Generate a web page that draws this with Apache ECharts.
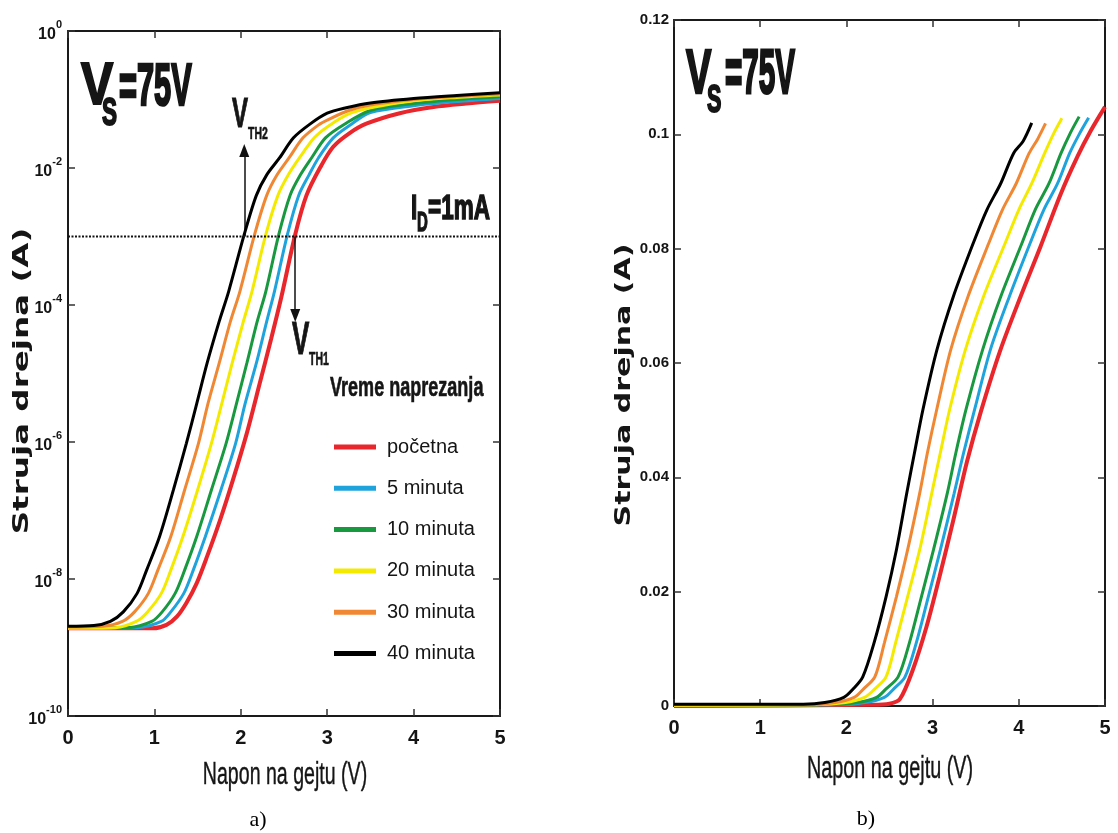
<!DOCTYPE html>
<html>
<head>
<meta charset="utf-8">
<script src="https://cdn.jsdelivr.net/npm/echarts@6.0.0/dist/echarts.min.js"></script>
<style>
html,body{margin:0;padding:0;background:#fff;}
#chart{width:1118px;height:833px;}
</style>
</head>
<body>
<div id="chart"></div>
<script>
// ---------------- DATA ----------------
const SERIES_NAMES = ['početna', '5 minuta', '10 minuta', '20 minuta', '30 minuta', '40 minuta'];
const X_TICKS = [0, 1, 2, 3, 4, 5];
const LOG_Y_TICKS = [-10, -8, -6, -4, -2, 0];      // decades shown on panel a)
const LIN_Y_TICKS = [0, 0.02, 0.04, 0.06, 0.08, 0.1, 0.12];

// Panel a) : [gate voltage V, log10 of drain current in A]
const LOG_POCETNA = [[0,-8.72],[0.98,-8.72],[1.14,-8.67],[1.26,-8.55],[1.37,-8.35],[1.49,-8.06],[1.61,-7.67],[1.76,-7.14],[1.91,-6.55],[2.07,-5.87],[2.22,-5.14],[2.35,-4.50],[2.47,-3.88],[2.63,-2.97],[2.76,-2.40],[2.92,-1.99],[3.07,-1.69],[3.26,-1.49],[3.46,-1.35],[3.84,-1.20],[4.23,-1.11],[4.61,-1.06],[5.0,-1.02]];
const LOG_5MIN = [[0,-8.72],[0.8,-8.71],[1.08,-8.62],[1.19,-8.48],[1.34,-8.21],[1.45,-7.87],[1.59,-7.38],[1.77,-6.70],[1.94,-6.02],[2.05,-5.44],[2.18,-4.85],[2.30,-4.24],[2.39,-3.80],[2.54,-2.97],[2.67,-2.40],[2.79,-2.10],[2.90,-1.85],[3.07,-1.56],[3.28,-1.36],[3.5,-1.19],[4.0,-1.09],[4.5,-1.03],[5.0,-0.985]];
const LOG_10MIN = [[0,-8.72],[0.7,-8.71],[0.97,-8.62],[1.09,-8.48],[1.24,-8.21],[1.35,-7.87],[1.49,-7.38],[1.66,-6.70],[1.83,-6.02],[1.95,-5.44],[2.07,-4.85],[2.19,-4.24],[2.29,-3.80],[2.44,-2.97],[2.57,-2.40],[2.69,-2.10],[2.82,-1.85],[2.98,-1.56],[3.2,-1.36],[3.5,-1.16],[4.0,-1.06],[4.5,-1.0],[5.0,-0.96]];
const LOG_20MIN = [[0,-8.72],[0.55,-8.71],[0.79,-8.62],[0.92,-8.48],[1.08,-8.21],[1.19,-7.87],[1.33,-7.38],[1.50,-6.70],[1.66,-6.02],[1.78,-5.44],[1.90,-4.85],[2.03,-4.24],[2.13,-3.80],[2.29,-2.97],[2.43,-2.40],[2.55,-2.10],[2.68,-1.85],[2.85,-1.56],[3.0,-1.40],[3.25,-1.21],[3.5,-1.12],[4.0,-1.02],[4.5,-0.97],[5.0,-0.935]];
const LOG_30MIN = [[0,-8.70],[0.4,-8.69],[0.63,-8.62],[0.77,-8.48],[0.93,-8.21],[1.04,-7.87],[1.19,-7.38],[1.35,-6.70],[1.51,-6.02],[1.62,-5.44],[1.75,-4.85],[1.88,-4.24],[1.99,-3.80],[2.16,-2.97],[2.30,-2.40],[2.42,-2.10],[2.56,-1.85],[2.72,-1.56],[2.9,-1.37],[3.0,-1.30],[3.25,-1.16],[3.5,-1.08],[4.0,-1.0],[4.5,-0.955],[5.0,-0.92]];
const LOG_40MIN = [[0,-8.69],[0.3,-8.68],[0.49,-8.62],[0.64,-8.48],[0.80,-8.21],[0.91,-7.87],[1.06,-7.38],[1.22,-6.70],[1.37,-6.02],[1.49,-5.44],[1.61,-4.85],[1.75,-4.24],[1.86,-3.80],[2.04,-2.97],[2.18,-2.40],[2.30,-2.10],[2.45,-1.85],[2.61,-1.56],[2.80,-1.36],[3.0,-1.2],[3.22,-1.12],[3.5,-1.05],[4.0,-0.985],[4.5,-0.94],[5.0,-0.90]];

// Panel b) : [gate voltage V, drain current A]
const LIN_POCETNA = [[0,0],[2.3,0.0002],[2.5,0.0004],[2.62,0.0012],[2.77,0.0063],[2.93,0.0139],[3.08,0.0226],[3.24,0.0325],[3.40,0.0428],[3.56,0.0515],[3.78,0.0620],[4.02,0.0716],[4.25,0.0803],[4.49,0.0897],[4.68,0.0961],[4.83,0.1005],[5.0,0.1048]];
const LIN_5MIN = [[0,0.0001],[1.9,0.0002],[2.22,0.0006],[2.44,0.0015],[2.55,0.003],[2.68,0.0051],[2.81,0.011],[2.95,0.0191],[3.09,0.0273],[3.25,0.0372],[3.36,0.0443],[3.49,0.052],[3.67,0.0623],[3.89,0.0716],[4.13,0.0809],[4.29,0.0868],[4.45,0.0914],[4.59,0.0967],[4.70,0.1000],[4.81,0.1029]];
const LIN_10MIN = [[0,0.0001],[1.8,0.0002],[2.13,0.0006],[2.35,0.0015],[2.46,0.003],[2.60,0.0051],[2.73,0.011],[2.87,0.0191],[3.01,0.0273],[3.17,0.0372],[3.27,0.0443],[3.39,0.052],[3.58,0.0623],[3.79,0.0716],[4.035,0.0809],[4.19,0.0868],[4.35,0.0914],[4.49,0.0967],[4.60,0.1003],[4.70,0.1031]];
const LIN_20MIN = [[0,0.0001],[1.65,0.0002],[1.99,0.0006],[2.21,0.0015],[2.33,0.003],[2.46,0.0051],[2.57,0.011],[2.71,0.0191],[2.85,0.0273],[2.99,0.0372],[3.09,0.0443],[3.20,0.052],[3.38,0.0623],[3.59,0.0716],[3.84,0.0809],[4.00,0.0868],[4.15,0.0914],[4.30,0.0967],[4.40,0.1000],[4.50,0.1028]];
const LIN_30MIN = [[0,0.0002],[1.55,0.0002],[1.87,0.0006],[2.09,0.0015],[2.20,0.003],[2.33,0.0051],[2.44,0.011],[2.58,0.0191],[2.71,0.0273],[2.85,0.0372],[2.94,0.0443],[3.05,0.052],[3.21,0.0623],[3.41,0.0716],[3.65,0.0809],[3.81,0.0868],[3.97,0.0914],[4.12,0.0967],[4.22,0.0992],[4.31,0.1019]];
const LIN_40MIN = [[0,0.0003],[1.5,0.0003],[1.75,0.0006],[1.97,0.0015],[2.08,0.003],[2.19,0.0051],[2.32,0.011],[2.46,0.0191],[2.58,0.0273],[2.70,0.0372],[2.79,0.0443],[2.89,0.052],[3.05,0.0623],[3.24,0.0716],[3.47,0.0809],[3.63,0.0868],[3.79,0.0914],[3.94,0.0967],[4.05,0.0988],[4.15,0.102]];

// threshold annotation values
const ID_LEVEL = 1e-3;                       // I_D = 1 mA
const VTH2 = 2.04, VTH2_TIP = 0.018;         // arrow up to this current
const VTH1 = 2.63, VTH1_TIP = 7e-5;          // arrow down to this current

// ---------------- STYLE ----------------
const COLORS = ['#e8262b', '#1fa3dd', '#18993f', '#f4ea00', '#f08733', '#000000'];
const WIDTHS = [4, 3, 3, 3, 3, 3];
const SANS = '"Liberation Sans",Arial,sans-serif';
const INK = '#151515';

const LOG_SETS = [LOG_POCETNA, LOG_5MIN, LOG_10MIN, LOG_20MIN, LOG_30MIN, LOG_40MIN];
const LIN_SETS = [LIN_POCETNA, LIN_5MIN, LIN_10MIN, LIN_20MIN, LIN_30MIN, LIN_40MIN];

const chart = echarts.init(document.getElementById('chart'), null, {renderer: 'canvas'});

const AX_LINE = {show: true, onZero: false, lineStyle: {color: '#1a1a1a', width: 2}};
const AX_TICK = {show: true, inside: true, length: 7, lineStyle: {color: '#333', width: 1.5}};

function baseX(grid, pos, showLabel) {
  return {
    type: 'value', gridIndex: grid, position: pos,
    min: X_TICKS[0], max: X_TICKS[X_TICKS.length - 1], interval: X_TICKS[1] - X_TICKS[0],
    axisLine: AX_LINE, axisTick: AX_TICK,
    axisLabel: {show: showLabel, margin: 12, color: INK, fontFamily: SANS, fontWeight: 'bold', fontSize: 20},
    splitLine: {show: false}
  };
}
function logY(grid, pos, showLabel) {
  // values are decades (log10 of current); labels are written as powers of ten
  return {
    type: 'value', gridIndex: grid, position: pos,
    min: LOG_Y_TICKS[0], max: LOG_Y_TICKS[LOG_Y_TICKS.length - 1], interval: LOG_Y_TICKS[1] - LOG_Y_TICKS[0],
    axisLine: AX_LINE, axisTick: AX_TICK,
    axisLabel: {
      show: showLabel, margin: 6,
      formatter: function (v) {
        const e = Math.round(v);
        return '{b|10}{s|' + (e < 0 ? '-' + (-e) : String(e)) + '}';
      },
      rich: {
        b: {fontFamily: SANS, fontWeight: 'bold', fontSize: 16, color: INK, lineHeight: 24, verticalAlign: 'bottom'},
        s: {fontFamily: SANS, fontWeight: 'bold', fontSize: 11, color: INK, lineHeight: 12, verticalAlign: 'top'}
      }
    },
    splitLine: {show: false}
  };
}
function linY(grid, pos, showLabel) {
  return {
    type: 'value', gridIndex: grid, position: pos,
    min: LIN_Y_TICKS[0], max: LIN_Y_TICKS[LIN_Y_TICKS.length - 1], interval: LIN_Y_TICKS[1] - LIN_Y_TICKS[0],
    axisLine: AX_LINE, axisTick: AX_TICK,
    axisLabel: {show: showLabel, margin: 5, color: INK, fontFamily: SANS, fontWeight: 'bold', fontSize: 15,
      formatter: function (v) { return String(Math.round(v * 100) / 100); }},
    splitLine: {show: false}
  };
}

const series = [];
for (let i = 0; i < SERIES_NAMES.length; i++) {
  series.push({
    name: SERIES_NAMES[i], type: 'line', xAxisIndex: 0, yAxisIndex: 0,
    data: LOG_SETS[i],
    smooth: 0.3, showSymbol: false, symbol: 'none',
    lineStyle: {color: COLORS[i], width: WIDTHS[i]}, itemStyle: {color: COLORS[i]},
    silent: true, z: 2 + i
  });
}
for (let i = 0; i < SERIES_NAMES.length; i++) {
  series.push({
    name: SERIES_NAMES[i], type: 'line', xAxisIndex: 2, yAxisIndex: 2,
    data: LIN_SETS[i],
    smooth: 0.3, showSymbol: false, symbol: 'none',
    lineStyle: {color: COLORS[i], width: WIDTHS[i]}, itemStyle: {color: COLORS[i]},
    silent: true, z: 2 + i
  });
}
const L = Math.log10;
series.push({
  name: 'ID', type: 'line', xAxisIndex: 0, yAxisIndex: 0,
  data: [[X_TICKS[0], L(ID_LEVEL)], [X_TICKS[X_TICKS.length - 1], L(ID_LEVEL)]],
  showSymbol: false, symbol: 'none', silent: true, z: 20,
  lineStyle: {color: '#111', width: 2, type: [2, 1.5]},
  markLine: {
    silent: true, symbol: ['none', 'triangle'], symbolSize: [10, 13], animation: false,
    label: {show: false},
    lineStyle: {color: '#111', width: 1.5, type: 'solid'},
    data: [
      [{coord: [VTH2, L(ID_LEVEL)]}, {coord: [VTH2, L(VTH2_TIP)]}],
      [{coord: [VTH1, L(ID_LEVEL)]}, {coord: [VTH1, L(VTH1_TIP)]}]
    ]
  }
});

function txt(text, x, y, size, opts) {
  opts = opts || {};
  const st = {
    text: text, fill: opts.fill || INK,
    font: (opts.weight || 'bold') + ' ' + size + 'px ' + (opts.family || SANS),
    textAlign: opts.align || 'left', textVerticalAlign: 'middle'
  };
  if (opts.stroke) { st.stroke = opts.fill || INK; st.lineWidth = opts.stroke; }
  return {
    type: 'text', x: x, y: y, scaleX: opts.sx || 1, scaleY: opts.sy || 1, rotation: opts.rot || 0,
    silent: true, z: 50, style: st
  };
}

const graphics = [
  // V_S = 75V  (panel a)
  txt('V', 81, 88, 46, {sx: 1.05, sy: 1.3, stroke: 1.6}),
  txt('S', 102, 114, 24, {sx: 0.94, sy: 1.63, stroke: 1.2}),
  txt('=75V', 119, 88, 40, {sx: 0.77, sy: 1.5, stroke: 1.8}),
  // V_S = 75V  (panel b)
  txt('V', 686, 76, 40, {sx: 0.95, sy: 1.57, stroke: 1.6}),
  txt('S', 707, 101, 24, {sx: 0.9, sy: 1.63, stroke: 1.2}),
  txt('=75V', 725, 76, 40, {sx: 0.74, sy: 1.57, stroke: 1.8}),
  // V_TH2
  txt('V', 232, 115, 24, {sy: 1.75, stroke: 0.6}),
  txt('TH2', 248, 134, 11, {sx: 0.95, sy: 1.55, stroke: 0.4}),
  // V_TH1
  txt('V', 292, 341, 26, {sy: 1.75, stroke: 0.6}),
  txt('TH1', 309, 360, 11, {sx: 0.95, sy: 1.7, stroke: 0.4}),
  // I_D = 1mA
  txt('I', 411, 209, 22.5, {sy: 1.55, stroke: 1}),
  txt('D', 417, 223, 15, {sy: 1.85, stroke: 0.8}),
  txt('=1mA', 428, 209, 22.5, {sy: 1.55, stroke: 1}),
  // legend title
  txt('Vreme naprezanja', 330, 388, 22, {sx: 0.82, sy: 1.27, stroke: 0.5}),
  // axis titles
  txt('Napon na gejtu (V)', 285, 776, 22, {sx: 0.89, sy: 1.4, align: 'center', weight: 'normal', stroke: 0.3}),
  txt('Napon na gejtu (V)', 890, 770, 22, {sx: 0.9, sy: 1.4, align: 'center', weight: 'normal', stroke: 0.3}),
  txt('Struja drejna (A)', 23, 381, 21, {sx: 1.55, rot: Math.PI / 2, align: 'center', family: '"DejaVu Sans",sans-serif'}),
  txt('Struja drejna (A)', 625, 385, 21, {sx: 1.43, rot: Math.PI / 2, align: 'center', family: '"DejaVu Sans",sans-serif'}),
  // panel captions
  txt('a)', 258, 820, 22, {align: 'center', weight: 'normal', family: '"Liberation Serif","Times New Roman",serif', fill: '#000'}),
  txt('b)', 866, 819, 22, {align: 'center', weight: 'normal', family: '"Liberation Serif","Times New Roman",serif', fill: '#000'})
];

const option = {
  backgroundColor: '#ffffff',
  animation: false,
  grid: [
    {left: 68, top: 31, width: 432, height: 685, containLabel: false},
    {left: 674, top: 20, width: 431, height: 686, containLabel: false}
  ],
  xAxis: [baseX(0, 'bottom', true), baseX(0, 'top', false), baseX(1, 'bottom', true), baseX(1, 'top', false)],
  yAxis: [logY(0, 'left', true), logY(0, 'right', false), linY(1, 'left', true), linY(1, 'right', false)],
  legend: {
    data: SERIES_NAMES, orient: 'vertical', left: 329, top: 431,
    itemWidth: 42, itemHeight: 5, itemGap: 19.3, icon: 'rect', selectedMode: false,
    textStyle: {fontFamily: SANS, fontSize: 20, color: INK, lineHeight: 22, padding: [0, 0, 0, 6]}
  },
  graphic: graphics,
  series: series
};
chart.setOption(option);
</script>
</body>
</html>
